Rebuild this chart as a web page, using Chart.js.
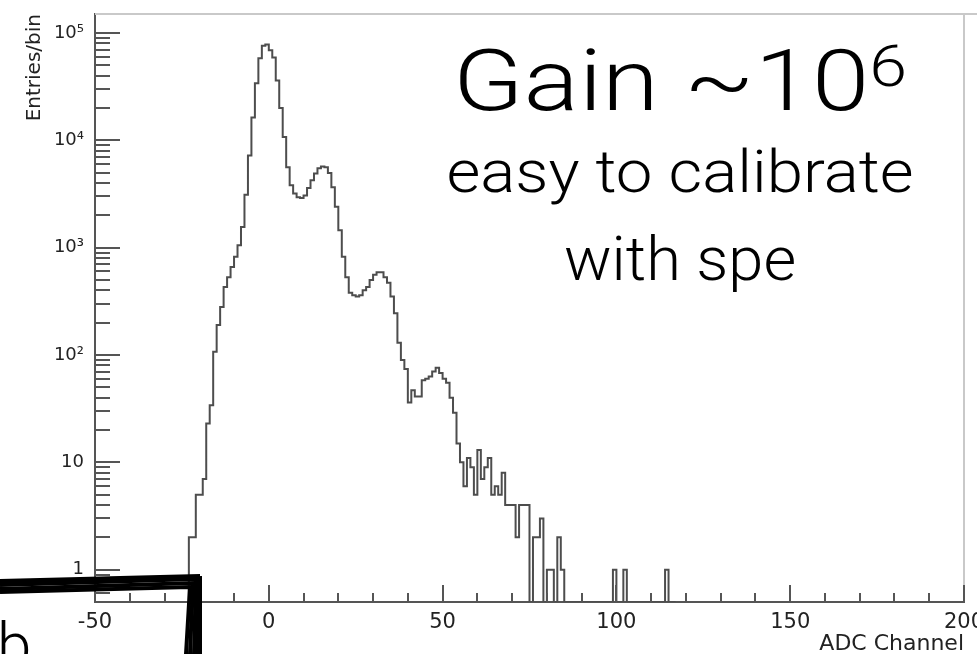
<!DOCTYPE html>
<html>
<head>
<meta charset="utf-8">
<title>ADC spectrum</title>
<script src="https://cdn.jsdelivr.net/npm/chart.js@4.4.1/dist/chart.umd.min.js"></script>
<style>
  body { margin: 0; background: #fff; }
  #wrap { position: relative; width: 977px; height: 654px; overflow: hidden; }
  #wrap canvas { position: absolute; left: 0; top: 0; }
  .note {
    position: absolute;
    left: 380px;
    width: 600px;
    font-family: Roboto, "Noto Sans", sans-serif;
    font-weight: 300;
    color: #000;
    line-height: 1;
    white-space: nowrap;
    text-align: center;
    transform-origin: 300px 50%;
  }
  .note sup { font-size: 0.66em; vertical-align: 0.42em; line-height: 0; }
  #gain { top: 38px; font-size: 86px; transform: scaleX(1.2); }
  #easy { top: 142px; font-size: 60px; transform: scaleX(1.09); }
  #spe { top: 228px; font-size: 62px; transform: scaleX(1.02); }
  #b { left: -3px; width: auto; top: 614px; font-size: 62px; text-align: left; }
</style>
</head>
<body>
<div id="wrap">
  <canvas id="spectrum"></canvas>
  <div class="note" id="gain">Gain ~10<sup>6</sup></div>
  <div class="note" id="easy">easy to calibrate</div>
  <div class="note" id="spe">with spe</div>
  <div class="note" id="b">b</div>
</div>
<script>
// one count per ADC channel, starting at channel firstChannel
const firstChannel = -23;
const counts = [
    0, 2, 2, 5, 5, 7, 23, 34, 107, 190,                 // -23 .. -14
    280, 430, 530, 660, 820, 1050, 1560, 3100, 7200, 16300, // -13 .. -4
    34000, 58000, 76000, 78000, 69000, 59000, 36000, 20000, 10700, 5600, // -3 .. 6
    3800, 3200, 2950, 2900, 3050, 3600, 4250, 4900, 5500, 5700, // 7 .. 16
    5600, 4950, 3650, 2400, 1450, 820, 530, 380, 360, 350, // 17 .. 26
    360, 400, 430, 500, 560, 590, 590, 530, 470, 350,   // 27 .. 36
    245, 130, 90, 74, 36, 47, 41, 41, 58, 60,           // 37 .. 46
    63, 70, 76, 68, 60, 55, 40, 29, 15, 10,             // 47 .. 56
    6, 11, 9, 5, 13, 7, 9, 11, 5, 6,                    // 57 .. 66
    5, 8, 4, 4, 4, 2, 4, 4, 4, 0,                       // 67 .. 76
    2, 2, 3, 0, 1, 1, 0, 2, 1, 0,                       // 77 .. 86
    0, 0, 0, 0, 0, 0, 0, 0, 0, 0,                       // 87 .. 96
    0, 0, 0, 1, 0, 0, 1, 0, 0, 0,                       // 97 .. 106
    0, 0, 0, 0, 0, 0, 0, 0, 1, 0                        // 107 .. 116
];

const xRange = [-50, 200];
const yRange = [0.5, 1.5e5];
const xMajorStep = 50;
const xMinorStep = 10;
const yDecades = [1, 10, 100, 1000, 10000, 100000];
const yLabels = ['1', '10', '10²', '10³', '10⁴', '10⁵'];

// histogram outline: each bin starts at its low edge, last point closes the last bin.
// the log axis drops zeros, so empty bins go down to the frame floor instead
const points = counts.map((c, i) => ({x: firstChannel + i, y: c > 0 ? c : yRange[0]}));
points.push({x: firstChannel + counts.length, y: yRange[0]});

const xTickValues = [];
for (let v = xRange[0]; v <= xRange[1]; v += xMinorStep) xTickValues.push(v);

const yTickValues = [];
for (const d of [0.1].concat(yDecades)) {
    for (let k = 1; k < 10; k++) {
        const v = +(k * d).toPrecision(3);
        if (v >= yRange[0] && v <= yRange[1]) yTickValues.push(v);
    }
}

const axisFont = {family: 'DejaVu Sans', size: 21};

// ROOT style: ticks inside the frame, pale top/right edges
const rootAxes = {
    id: 'rootAxes',
    afterDraw(chart) {
        const {ctx, chartArea: a, scales: {x, y}} = chart;
        ctx.save();
        ctx.lineWidth = 2;
        ctx.strokeStyle = '#c9c9c9';
        ctx.beginPath();
        ctx.moveTo(a.left, a.top);
        ctx.lineTo(977, a.top);
        ctx.moveTo(a.right, a.top);
        ctx.lineTo(a.right, a.bottom);
        ctx.stroke();

        ctx.strokeStyle = '#555';
        ctx.beginPath();
        for (const t of y.ticks) {
            const py = Math.round(y.getPixelForValue(t.value));
            const len = yDecades.includes(t.value) ? 25 : 15;
            ctx.moveTo(a.left, py);
            ctx.lineTo(a.left + len, py);
        }
        for (const t of x.ticks) {
            const px = Math.round(x.getPixelForValue(t.value));
            const len = t.value % xMajorStep === 0 ? 17 : 9;
            ctx.moveTo(px, a.bottom);
            ctx.lineTo(px, a.bottom - len);
        }
        ctx.stroke();
        ctx.restore();
    }
};

// thick hand drawn corner in the lower left
const scribble = {
    id: 'scribble',
    afterDraw(chart) {
        const ctx = chart.ctx;
        const strokes = [
            [0, 581, 198, 576, 198, 654],
            [0, 585, 196, 579, 194, 654],
            [0, 589, 193, 583, 190, 654],
            [0, 592, 190, 587, 186, 654],
            [0, 583, 200, 578, 200, 654]
        ];
        ctx.save();
        ctx.strokeStyle = '#000';
        ctx.lineWidth = 4;
        for (const s of strokes) {
            ctx.beginPath();
            ctx.moveTo(s[0], s[1]);
            ctx.lineTo(s[2], s[3]);
            ctx.lineTo(s[4], s[5]);
            ctx.stroke();
        }
        ctx.restore();
    }
};

new Chart(document.getElementById('spectrum'), {
    type: 'line',
    data: {
        datasets: [{
            data: points,
            stepped: 'after',
            borderColor: '#4d4d4d',
            borderWidth: 2,
            pointRadius: 0,
            fill: false
        }]
    },
    options: {
        responsive: true,
        maintainAspectRatio: false,
        animation: false,
        layout: {padding: {top: 14, right: 13, left: 0, bottom: 0}},
        plugins: {legend: {display: false}, tooltip: {enabled: false}},
        scales: {
            x: {
                type: 'linear',
                min: xRange[0],
                max: xRange[1],
                grid: {display: false},
                border: {color: '#555', width: 2},
                afterBuildTicks: s => { s.ticks = xTickValues.map(v => ({value: v})); },
                afterFit: s => { s.height = 52; s.paddingLeft = 0; s.paddingRight = 0; },
                ticks: {
                    autoSkip: false,
                    maxRotation: 0,
                    padding: 0,
                    color: '#222',
                    font: axisFont,
                    callback: v => (v % xMajorStep === 0 ? String(v) : '')
                },
                title: {
                    display: true,
                    text: 'ADC Channel',
                    align: 'end',
                    color: '#222',
                    font: {family: 'DejaVu Sans', size: 22},
                    padding: {top: 0, bottom: -3}
                }
            },
            y: {
                type: 'logarithmic',
                min: yRange[0],
                max: yRange[1],
                grid: {display: false},
                border: {color: '#555', width: 2},
                afterBuildTicks: s => { s.ticks = yTickValues.map(v => ({value: v})); },
                afterFit: s => { s.width = 95; s.paddingTop = 0; s.paddingBottom = 0; },
                ticks: {
                    autoSkip: false,
                    padding: 3,
                    color: '#222',
                    font: {family: 'DejaVu Sans', size: 18},
                    callback: v => {
                        const i = yDecades.indexOf(v);
                        return i < 0 ? '' : yLabels[i];
                    }
                },
                title: {
                    display: true,
                    text: 'Entries/bin',
                    align: 'end',
                    color: '#222',
                    font: {family: 'DejaVu Sans', size: 20},
                    padding: {top: 23, bottom: 0}
                }
            }
        }
    },
    plugins: [rootAxes, scribble]
});
</script>
</body>
</html>
